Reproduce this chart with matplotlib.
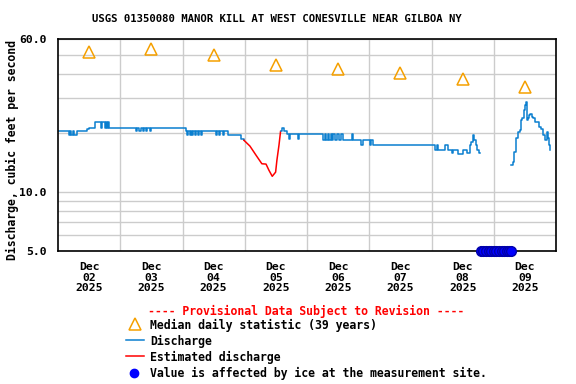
import matplotlib
matplotlib.use('Agg')
import matplotlib.pyplot as plt
from matplotlib.lines import Line2D

# hours since 2025-12-02 00:00
median_hours = [12, 36, 60, 84, 108, 132, 156, 180]
median_cfs = [51.6, 53.4, 49.8, 44.3, 42.2, 40.3, 37.6, 34.2]

# discharge before the estimated stretch
q1_hours = [0, 4.2, 4.6, 5.0, 5.6, 6.1, 7.3, 11.2, 12.0, 14.3, 16.6, 17.0, 18.1, 18.5, 19.0, 19.4, 19.8,
            30.1, 30.6, 31.4, 31.9, 32.7, 33.2, 34.0, 34.5, 35.3, 35.8,
            49.3, 49.8, 50.2, 50.8, 51.2, 51.8, 52.2, 52.8, 53.3, 54.0, 54.5, 55.2, 55.7,
            60.8, 61.3, 62.0, 62.5, 63.6, 64.0, 65.5, 70.4, 71.7]
q1_cfs = [20.4, 19.5, 20.4, 19.5, 20.4, 19.5, 20.4, 20.8, 21.2, 22.6, 21.2, 22.6, 21.2, 22.6, 21.2, 22.6, 21.2,
          20.4, 21.2, 20.4, 21.2, 20.4, 21.2, 20.4, 21.2, 20.4, 21.2,
          20.4, 19.5, 20.4, 19.5, 20.4, 19.5, 20.4, 19.5, 20.4, 19.5, 20.4, 19.5, 20.4,
          19.5, 20.4, 19.5, 20.4, 19.5, 20.4, 19.5, 18.6, 18.3]

# estimated discharge
est_hours = [71.7, 74.0, 76.3, 78.6, 80.2, 81.3, 82.6, 83.9, 84.4, 85.2, 85.8]
est_cfs = [18.3, 17.1, 15.4, 13.9, 13.85, 12.9, 12.0, 12.6, 14.5, 17.3, 20.3]

# discharge after the estimated stretch, up to the ice gap
q2_hours = [85.8, 86.4, 87.0, 88.3, 89.0, 89.5, 92.5, 93.0,
            102.2, 102.9, 103.4, 104.0, 104.5, 105.1, 105.6, 106.2, 106.7, 107.5, 108.5, 109.0, 110.0,
            113.5, 113.9, 117.0, 117.4, 120.3, 120.7, 121.3,
            145.3, 146.1, 146.5, 149.2, 150.4, 151.9, 152.3, 154.2, 156.1, 157.7, 158.8, 159.2,
            159.9, 160.4, 161.2, 161.7, 162.3, 162.7]
q2_cfs = [20.4, 21.2, 20.4, 19.6, 18.6, 19.6, 18.6, 19.6,
          18.4, 19.6, 18.4, 19.6, 18.4, 19.6, 18.4, 19.6, 18.4, 19.6, 18.4, 19.6, 18.4,
          19.6, 18.4, 17.3, 18.4, 17.3, 18.4, 17.3,
          16.3, 17.3, 16.3, 17.3, 16.3, 15.8, 16.3, 15.6, 16.3, 15.8, 17.3, 18.0,
          19.5, 18.4, 17.3, 16.3, 15.8, 15.8]

# discharge after the ice gap
q3_hours = [174.6, 175.4, 175.8, 176.6, 177.3, 178.1, 178.5, 178.9, 179.7, 180.0, 180.4,
            180.8, 181.2, 181.6, 182.0, 182.7, 183.1, 183.9, 185.4, 186.2, 187.0, 187.8,
            188.5, 188.9, 189.3, 189.7]
q3_cfs = [13.7, 14.25, 16.0, 18.7, 20.2, 20.65, 23.2, 23.7, 26.1, 27.7, 28.6,
          23.2, 23.7, 24.6, 24.9, 24.1, 23.9, 22.8, 21.5, 20.9, 19.5, 18.4,
          20.2, 18.7, 17.3, 16.3]

# ice affected values (plotted at the bottom of the axis)
ice_hours = [163, 164, 165, 166, 167, 168, 169, 170, 171, 172, 173, 174, 174.6]

day_labels = ['Dec\n02\n2025', 'Dec\n03\n2025', 'Dec\n04\n2025', 'Dec\n05\n2025',
              'Dec\n06\n2025', 'Dec\n07\n2025', 'Dec\n08\n2025', 'Dec\n09\n2025']

title = 'USGS 01350080 MANOR KILL AT WEST CONESVILLE NEAR GILBOA NY'

BLUE = '#0a7fcf'
ORANGE = '#f5a000'
font = 'DejaVu Sans Mono'

fig = plt.figure(figsize=(5.76, 3.84), dpi=100)
ax = fig.add_axes([58/576, 1-251/384, 498/576, 212/384])

ax.set_yscale('log')
ax.set_ylim(5, 60)
ax.set_xlim(0, 192)

ax.set_yticks([5, 10, 60])
ax.set_yticklabels(['5.0', '10.0', '60.0'])
ax.set_yticks([6, 7, 8, 9, 20, 30, 40, 50], minor=True)
ax.yaxis.set_minor_formatter(plt.NullFormatter())
ax.set_xticks([24, 48, 72, 96, 120, 144, 168])
ax.set_xticklabels([])
ax.set_xticks([12, 36, 60, 84, 108, 132, 156, 180], minor=True)
ax.set_xticklabels(day_labels, minor=True)
ax.tick_params(which='both', length=0)
ax.tick_params(axis='y', which='both', pad=8)
ax.tick_params(axis='x', which='minor', pad=8)
for lab in ax.get_xticklabels(minor=True) + ax.get_yticklabels():
    lab.set_family(font)
    lab.set_weight('bold')
    lab.set_fontsize(8.2)
for lab in ax.get_xticklabels(minor=True):
    lab.set_linespacing(1.05)

ax.grid(True, which='both', color='#cccccc', lw=1)
ax.grid(False, axis='x', which='minor')
ax.set_axisbelow(True)
for s in ax.spines.values():
    s.set_linewidth(1.2)

ax.plot(q1_hours, q1_cfs, color=BLUE, lw=1.1, drawstyle='steps-post')
ax.plot(est_hours, est_cfs, color='red', lw=1.1)
ax.plot(q2_hours, q2_cfs, color=BLUE, lw=1.1, drawstyle='steps-post')
ax.plot(q3_hours, q3_cfs, color=BLUE, lw=1.1, drawstyle='steps-post')
ax.plot(median_hours, median_cfs, ls='none', marker='^', ms=8, mfc='none', mec=ORANGE, mew=1.1)
ax.plot(ice_hours, [5.0]*len(ice_hours), ls='none', marker='o', ms=7, color='blue',
        mec='#0000aa', clip_on=False, zorder=5)

fig.text(277/576, 1-19/384, title, ha='center', va='center', family=font,
         weight='bold', fontsize=7.7)
fig.text(12/576, 1-150/384, 'Discharge, cubic feet per second', rotation=90,
         ha='center', va='center', family=font, weight='bold', fontsize=8.3)

# legend drawn below the axes
fig.text(306/576, 1-311/384, '---- Provisional Data Subject to Revision ----', color='red',
         ha='center', va='center', family=font, weight='bold', fontsize=8.3)
entries = ['Median daily statistic (39 years)', 'Discharge', 'Estimated discharge',
           'Value is affected by ice at the measurement site.']
ys = [325, 341, 357, 373]
for txt, y in zip(entries, ys):
    fig.text(150/576, 1-y/384, txt, ha='left', va='center', family=font,
             weight='bold', fontsize=8.3)
fig.add_artist(Line2D([135/576], [1-324/384], ls='none', marker='^', ms=8, mfc='none',
                      mec=ORANGE, mew=1.1, transform=fig.transFigure))
fig.add_artist(Line2D([126/576, 144/576], [1-340/384]*2, color=BLUE, lw=1.1,
                      transform=fig.transFigure))
fig.add_artist(Line2D([126/576, 144/576], [1-356/384]*2, color='red', lw=1.1,
                      transform=fig.transFigure))
fig.add_artist(Line2D([134/576], [1-373/384], ls='none', marker='o', ms=6, color='blue',
                      transform=fig.transFigure))

fig.savefig('out.png', dpi=100)
